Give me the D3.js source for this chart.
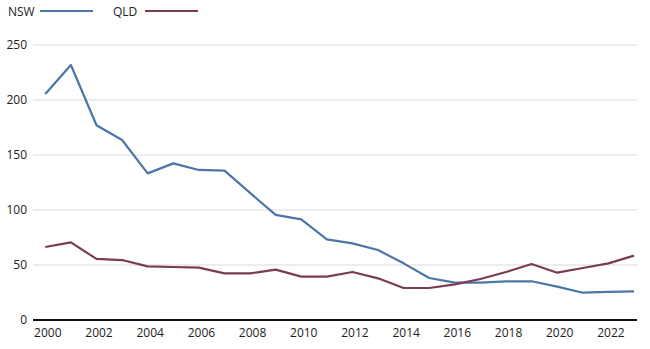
<!DOCTYPE html>
<html>
<head>
<meta charset="utf-8">
<script src="https://cdn.jsdelivr.net/npm/d3@7"></script>
<style>
  body { margin: 0; background: #fff; }
  svg text { font-family: "Open Sans", "Noto Sans", sans-serif; font-size: 12px; fill: #222; }
</style>
</head>
<body>
<svg id="chart" width="650" height="349"></svg>
<script>
const years = d3.range(2000, 2024);
const nsw = [205.5, 231.8, 177, 163.6, 133.3, 142.4, 136.4, 135.8, 115.5, 95.5, 91.5, 73.3,
  69.7, 63.6, 51.5, 38.2, 34, 34, 35.2, 35.2, 30.3, 24.8, 25.5, 26];
const qld = [66.4, 70.6, 55.5, 54.5, 48.8, 48.2, 47.6, 42.4, 42.4, 45.8, 39.4, 39.4,
  43.6, 37.9, 29.1, 29.1, 32.4, 37.3, 43.6, 50.9, 43, 47.3, 51.5, 58.5];
const yTicks = [0, 50, 100, 150, 200, 250];
const xTicks = d3.range(2000, 2023, 2);
const seriesNames = ["NSW", "QLD"];
const colors = ["#4a76a8", "#7b3b55"];

const svg = d3.select("#chart");
const x = d3.scaleLinear().domain([2000, 2023]).range([45.3, 634]);
const y = d3.scaleLinear().domain([0, 250]).range([320, 45]);

// gridlines
svg.append("g")
  .selectAll("line")
  .data(yTicks.filter(d => d > 0))
  .join("line")
  .attr("x1", 33).attr("x2", 637)
  .attr("y1", d => y(d)).attr("y2", d => y(d))
  .attr("stroke", "#d9d9d9").attr("stroke-width", 1);

// y labels
svg.append("g")
  .selectAll("text")
  .data(yTicks)
  .join("text")
  .attr("x", 27)
  .attr("y", d => y(d) + 4)
  .attr("text-anchor", "end")
  .text(d => d);

// x axis
const xAxis = d3.axisBottom(x).tickValues(xTicks).tickFormat(d3.format("d")).tickSize(0).tickPadding(8);
const gx = svg.append("g").attr("transform", "translate(2,320)").call(xAxis);
gx.select(".domain").remove();
gx.selectAll("text").attr("font-family", null).attr("font-size", null).style("fill", "#222");
svg.append("line")
  .attr("x1", 33).attr("x2", 637).attr("y1", 320).attr("y2", 320)
  .attr("stroke", "#111").attr("stroke-width", 2);

// lines
const line = d3.line().x((d, i) => x(years[i])).y(d => y(d));
[nsw, qld].forEach((s, i) => {
  svg.append("path")
    .datum(s)
    .attr("fill", "none")
    .attr("stroke", colors[i])
    .attr("stroke-width", 2.2)
    .attr("stroke-linejoin", "round")
    .attr("d", line);
});

// legend
const legendX = [8, 113];
const lg = svg.append("g");
seriesNames.forEach((n, i) => {
  lg.append("text").attr("x", legendX[i]).attr("y", 16).text(n);
  lg.append("line")
    .attr("x1", legendX[i] + 32).attr("x2", legendX[i] + 85)
    .attr("y1", 11).attr("y2", 11)
    .attr("stroke", colors[i]).attr("stroke-width", 2.2);
});
</script>
</body>
</html>
